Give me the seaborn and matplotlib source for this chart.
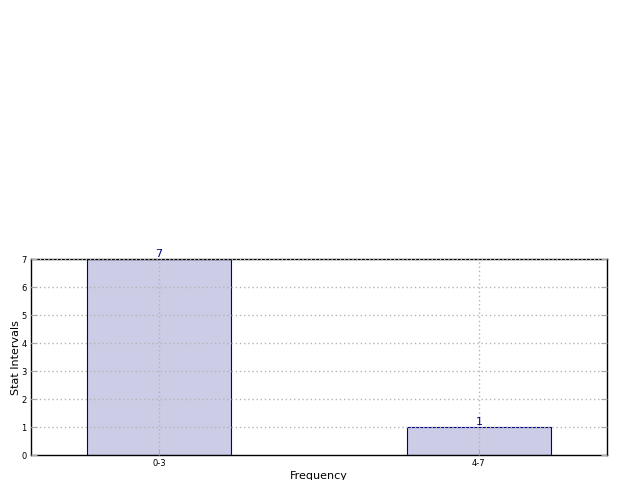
import matplotlib
matplotlib.use("Agg")
import matplotlib.pyplot as plt
import seaborn as sns
import pandas as pd

# histogram counts per stat interval
intervals = ['0-3', '4-7']
counts = [7, 1]

df = pd.DataFrame({'interval': intervals, 'count': counts})

sns.set_style('white')
plt.rcParams['font.family'] = ['DejaVu Sans']
plt.rcParams['text.color'] = 'black'
plt.rcParams['axes.labelcolor'] = 'black'
plt.rcParams['xtick.labelcolor'] = 'black'
plt.rcParams['ytick.labelcolor'] = 'black'

fig = plt.figure(figsize=(6.4, 4.8), dpi=100)
ax = fig.add_axes([0.0484, 0.052, 0.8998, 0.408])

sns.barplot(data=df, x='interval', y='count', ax=ax, width=0.45,
            color=(0.8, 0.8, 0.9), saturation=1, edgecolor='navy', linewidth=0.8)

ax.set_xlim(-0.4, 1.4)
ax.set_ylim(0, 7)
ax.set_yticks(range(0, 8))
ax.grid(True, linestyle=(0, (1, 2)), color='#b5b5b5', linewidth=1.0)
ax.set_axisbelow(False)
for s in ax.spines.values():
    s.set_color('black')
    s.set_linewidth(1)
ax.tick_params(direction='in', length=4, labelsize=6, top=False, right=True, left=True, bottom=True,
               color='#aaaaaa', pad=3)
ax.set_xlabel('Frequency', fontsize=8, labelpad=2)
ax.set_ylabel('Stat Intervals', fontsize=8, labelpad=0)

for i, c in enumerate(counts):
    ax.text(i, c, str(c), ha='center', va='bottom', color='navy', fontsize=8)

fig.savefig('out.png', dpi=100)
